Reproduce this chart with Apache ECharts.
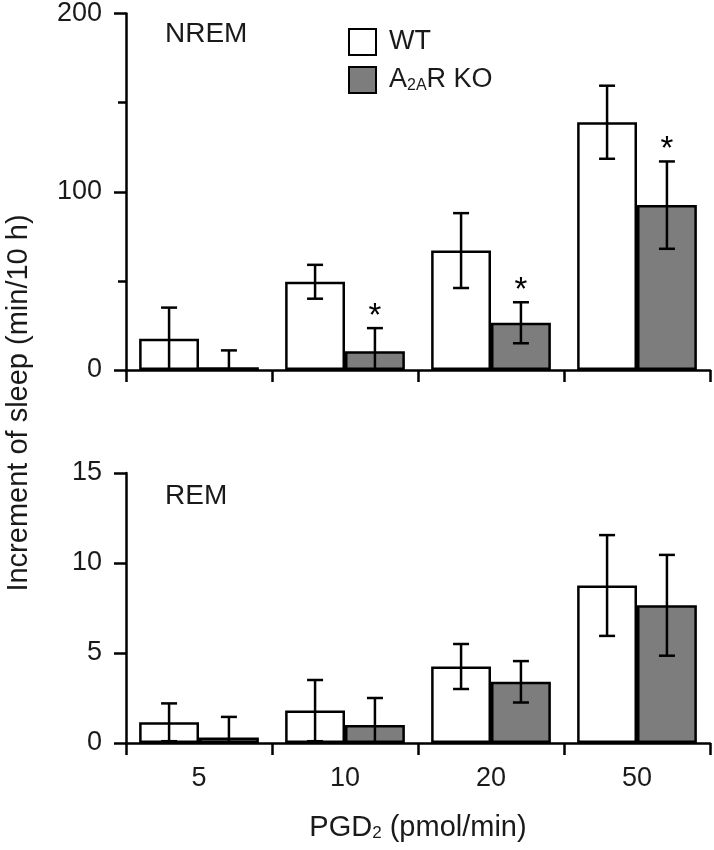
<!DOCTYPE html>
<html>
<head>
<meta charset="utf-8">
<script src="https://cdn.jsdelivr.net/npm/echarts@6/dist/echarts.min.js"></script>
<style>html,body{margin:0;padding:0;background:#fff}#c{width:714px;height:850px}</style>
</head>
<body>
<div id="c"></div>
<script>
const categories = ['5', '10', '20', '50'];
const nremWT = [17.5, 49.5, 67, 139];
const nremWTErr = [17.5, 9.5, 21, 20.5];
const nremKO = [1.5, 10.5, 26.5, 92.5];
const nremKOErr = [9.5, 13, 11.5, 24.5];
const nremKOSig = [0, 1, 1, 1];
const remWT = [1.15, 1.8, 4.25, 8.75];
const remWTErr = [1.05, 1.7, 1.25, 2.8];
const remKO = [0.3, 1.0, 3.4, 7.65];
const remKOErr = [1.15, 1.5, 1.15, 2.8];
const noSig = [0, 0, 0, 0];

const FONT = 'Liberation Sans, Arial, sans-serif';
const TXT = '#1a1a1a';
const GREY = '#7d7d7d';

function errData(vals, errs, sig) {
  return vals.map((v, i) => [i, Math.max(0, v - errs[i]), v + errs[i], sig[i]]);
}

function errSeries(vals, errs, sig, side, axisIdx) {
  return {
    type: 'custom',
    xAxisIndex: axisIdx, yAxisIndex: axisIdx,
    z: 5,
    silent: true,
    encode: { x: 0, y: [1, 2] },
    data: errData(vals, errs, sig),
    renderItem: function (params, api) {
      const idx = api.value(0);
      const band = api.size([1, 0])[0];
      const off = side * band * 0.205;
      const hi = api.coord([idx, api.value(2)]);
      const lo = api.coord([idx, api.value(1)]);
      const x = hi[0] + off;
      const cw = 8;
      const st = { stroke: '#000', lineWidth: 2.5 };
      const kids = [
        { type: 'line', shape: { x1: x, y1: hi[1], x2: x, y2: lo[1] }, style: st },
        { type: 'line', shape: { x1: x - cw, y1: hi[1], x2: x + cw, y2: hi[1] }, style: st }
      ];
      if (api.value(1) > 0) {
        kids.push({ type: 'line', shape: { x1: x - cw, y1: lo[1], x2: x + cw, y2: lo[1] }, style: st });
      }
      if (api.value(3)) {
        kids.push({ type: 'text', x: x, y: hi[1] + 5,
          style: { text: '*', fontSize: 33, fontFamily: FONT, fill: '#000', align: 'center', verticalAlign: 'bottom' } });
      }
      return { type: 'group', children: kids };
    }
  };
}

function barSeries(name, vals, color, axisIdx) {
  return {
    name: name, type: 'bar', xAxisIndex: axisIdx, yAxisIndex: axisIdx,
    data: vals, barWidth: '41%', barGap: '0%',
    itemStyle: { color: color, borderColor: '#000', borderWidth: 2.5 },
    emphasis: { disabled: true }
  };
}

const axisLineStyle = { color: '#000', width: 2.5 };
const labelStyle = { fontSize: 27, fontFamily: FONT, color: TXT };

const chart = echarts.init(document.getElementById('c'), null, { renderer: 'canvas' });
chart.setOption({
  animation: false,
  backgroundColor: '#fff',
  textStyle: { fontFamily: FONT },
  grid: [
    { left: 126, top: 12, width: 584, height: 358 },
    { left: 126, top: 473, width: 584, height: 270 }
  ],
  legend: {
    data: ['WT', 'A2AR KO'],
    orient: 'vertical',
    left: 348, top: 28, padding: 0,
    itemWidth: 27, itemHeight: 26, itemGap: 10,
    icon: 'rect',
    selectedMode: false,
    formatter: function (n) { return n === 'A2AR KO' ? 'A{sub|2A}R KO' : n; },
    textStyle: {
      fontSize: 27, fontFamily: FONT, color: TXT, padding: [0, 0, 0, 8],
      rich: { sub: { fontSize: 16, fontFamily: FONT, color: TXT, verticalAlign: 'bottom', padding: [10, 0, 0, 0] } }
    }
  },
  xAxis: [
    { type: 'category', gridIndex: 0, data: categories,
      axisLine: { lineStyle: axisLineStyle },
      axisTick: { show: true, length: 12, lineStyle: axisLineStyle, alignWithLabel: false },
      axisLabel: { show: false }, splitLine: { show: false } },
    { type: 'category', gridIndex: 1, data: categories,
      axisLine: { lineStyle: axisLineStyle },
      axisTick: { show: true, length: 12, lineStyle: axisLineStyle, alignWithLabel: false },
      axisLabel: Object.assign({ margin: 22 }, labelStyle),
      splitLine: { show: false },
      name: 'PGD{sub|2} (pmol/min)', nameLocation: 'middle', nameGap: 70,
      nameTextStyle: Object.assign({}, labelStyle, { fontSize: 29,
        rich: { sub: { fontSize: 17, fontFamily: FONT, color: TXT, verticalAlign: 'bottom', padding: [10, 0, 0, 0] } }
      }) }
  ],
  yAxis: [
    { type: 'value', gridIndex: 0, min: 0, max: 200, interval: 100,
      axisLine: { show: true, lineStyle: axisLineStyle },
      axisTick: { show: true, length: 12, lineStyle: axisLineStyle },
      minorTick: { show: true, splitNumber: 2, length: 8, lineStyle: axisLineStyle },
      axisLabel: Object.assign({ margin: 24 }, labelStyle),
      splitLine: { show: false }, minorSplitLine: { show: false } },
    { type: 'value', gridIndex: 1, min: 0, max: 15, interval: 5,
      axisLine: { show: true, lineStyle: axisLineStyle },
      axisTick: { show: true, length: 12, lineStyle: axisLineStyle },
      axisLabel: Object.assign({ margin: 24 }, labelStyle),
      splitLine: { show: false } }
  ],
  graphic: [
    { type: 'text', left: 165, top: 20, style: { text: 'NREM', fontSize: 28, fontFamily: FONT, fill: TXT } },
    { type: 'text', left: 165, top: 482, style: { text: 'REM', fontSize: 28, fontFamily: FONT, fill: TXT } },
    { type: 'text', x: 19, y: 403, rotation: Math.PI / 2,
      style: { text: 'Increment of sleep (min/10 h)', fontSize: 29, fontFamily: FONT, fill: TXT, align: 'center', verticalAlign: 'middle' } }
  ],
  series: [
    barSeries('WT', nremWT, '#fff', 0),
    barSeries('A2AR KO', nremKO, GREY, 0),
    barSeries('WT', remWT, '#fff', 1),
    barSeries('A2AR KO', remKO, GREY, 1),
    errSeries(nremWT, nremWTErr, noSig, -1, 0),
    errSeries(nremKO, nremKOErr, nremKOSig, 1, 0),
    errSeries(remWT, remWTErr, noSig, -1, 1),
    errSeries(remKO, remKOErr, noSig, 1, 1)
  ]
});
</script>
</body>
</html>
